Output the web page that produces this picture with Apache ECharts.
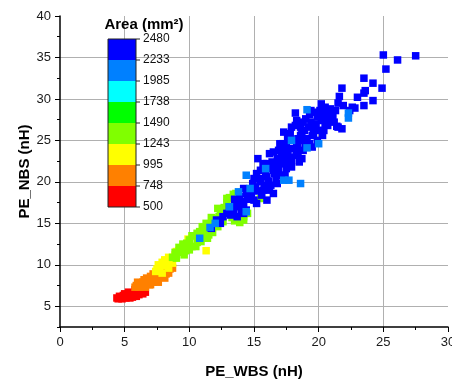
<!DOCTYPE html>
<html><head><meta charset="utf-8">
<script src="https://cdn.jsdelivr.net/npm/echarts@6/dist/echarts.min.js"></script>
<style>html,body{margin:0;padding:0;background:#fff}#c{width:452px;height:381px}</style>
</head><body><div id="c"></div>
<script>
// Axis tick values
const xTicks = [0, 5, 10, 15, 20, 25, 30];
const yTicks = [5, 10, 15, 20, 25, 30, 35, 40];
// Colour legend (Area, mm²) boundaries top -> bottom and piece colours
const legendTicks = [2480, 2233, 1985, 1738, 1490, 1243, 995, 748, 500];
const legendColors = ['#0000ff', '#0080ff', '#00ffff', '#00ff00', '#80ff00', '#ffff00', '#ff8000', '#ff0000'];

// Points: [PE_WBS (nH), PE_NBS (nH), Area (mm²)]
const ptsRed = [
  [4.4,6.0,600],[4.5,5.9,610],[4.6,6.2,600],[4.7,6.0,620],[4.8,5.9,630],[4.9,6.3,640],[5.0,6.1,620],
  [5.0,6.5,650],[5.1,6.0,650],[5.2,6.4,660],[5.3,6.7,670],[5.4,6.0,640],[5.4,6.5,670],[5.6,6.1,680],
  [5.6,6.3,660],[5.7,6.6,690],[5.8,7.0,700],[5.9,6.2,690],[5.9,6.8,700],[6.0,6.6,710],[6.1,6.4,700],
  [6.1,7.1,720],[6.2,6.9,720],[6.4,6.5,730],[6.4,6.9,740],[6.5,7.2,740],[6.6,6.7,735]
];
const ptsOrange = [
  [5.8,7.3,760],[5.9,7.5,780],[6.0,7.9,790],[6.1,7.3,790],[6.3,7.6,800],[6.4,7.9,820],[6.5,8.2,830],
  [6.6,7.3,810],[6.6,7.7,830],[6.7,8.4,850],[6.8,8.1,850],[6.9,7.6,840],[7.0,8.6,870],[7.0,7.6,850],
  [7.1,8.3,870],[7.2,7.9,860],[7.2,8.9,880],[7.4,8.6,890],[7.4,8.0,880],[7.6,8.3,900],[7.6,7.9,890],
  [7.7,8.9,910],[7.9,8.6,920],[8.0,9.3,940],[8.1,8.4,930],[8.2,8.9,950],[8.3,9.8,960],[8.4,9.0,960],
  [8.5,9.5,980],[8.7,9.6,985]
];
const ptsYellow = [
  [7.4,9.2,1010],[7.5,9.5,1020],[7.7,9.6,1030],[7.9,9.0,1020],[7.9,10.3,1060],[8.0,9.9,1060],
  [7.6,10.0,1050],[8.1,10.6,1080],[8.2,10.3,1080],[8.4,9.6,1070],[8.4,10.9,1100],[8.6,10.7,1110],
  [8.7,10.2,1100],[8.9,11.2,1140],[9.0,11.6,1150],[9.2,11.7,1170],[9.6,12.0,1190],[9.9,13.1,1220],
  [11.3,11.7,1150]
];
const ptsLime = [
  [8.7,10.9,1260],[8.9,11.5,1270],[9.0,10.8,1260],[9.3,11.5,1280],[9.2,12.1,1290],[9.5,12.5,1300],
  [9.6,11.2,1280],[9.7,11.7,1300],[9.8,12.6,1310],[10.0,13.0,1320],[10.0,11.8,1300],[10.2,12.2,1310],
  [10.2,13.5,1330],[10.4,13.5,1340],[10.5,12.2,1320],[10.6,12.7,1330],[10.6,13.8,1340],[10.8,14.0,1350],
  [10.9,12.8,1330],[11.0,14.6,1360],[11.1,13.5,1350],[11.2,14.4,1370],[11.3,15.0,1370],[11.4,13.2,1360],
  [11.5,13.6,1360],[11.6,14.9,1380],[11.7,15.7,1390],[11.8,13.9,1370],[11.9,15.1,1390],[12.0,15.6,1400],
  [12.2,14.6,1390],[12.2,16.8,1410],[12.3,15.8,1400],[12.4,16.3,1410],[12.6,15.2,1400],[12.6,16.4,1410],
  [12.7,16.9,1420],[12.9,17.5,1430],[12.9,18.0,1440],[13.1,18.1,1440],[13.4,18.5,1450],[13.6,18.6,1450],
  [13.3,15.7,1420],[13.5,15.3,1420],[13.9,15.1,1430],[14.0,15.6,1430],[14.2,15.4,1440],[14.2,15.8,1450],
  [14.5,16.2,1450],[15.5,18.0,1460]
];
const ptsBlue = [
  [11.7,14.4,2400],[12.1,15.4,2400],[12.4,15.0,2400],[12.6,15.8,2400],[12.9,16.2,2400],[13.1,17.0,2400],
  [13.2,16.0,2400],[13.3,16.9,2400],[13.4,16.4,2400],[13.6,17.0,2400],[13.7,15.8,2400],[13.7,17.4,2400],
  [13.5,17.9,2400],[13.9,18.2,2400],[14.0,16.6,2400],[14.1,17.6,2400],[14.2,16.2,2400],[14.2,17.4,2400],
  [14.2,19.2,2400],[14.4,18.6,2400],[14.4,16.6,2400],[14.5,17.9,2400],[14.7,18.2,2400],[14.8,18.6,2400],
  [14.9,19.8,2400],[15.0,17.8,2400],[15.0,20.4,2400],[15.1,19.4,2400],[15.2,21.0,2400],[15.2,17.4,2400],
  [15.3,18.9,2400],[15.4,20.4,2400],[15.5,20.0,2400],[15.5,21.4,2400],[15.6,18.4,2400],[15.7,19.0,2400],
  [15.7,22.2,2400],[15.3,22.8,2400],[15.8,19.6,2400],[15.9,20.8,2400],[16.0,17.8,2400],[16.0,20.6,2400],
  [16.0,22.2,2400],[16.1,20.1,2400],[16.2,19.0,2400],[16.2,23.4,2400],[16.2,21.6,2400],[16.3,19.6,2400],
  [16.4,22.4,2400],[16.5,21.4,2400],[16.5,22.0,2400],[16.5,18.6,2400],[16.5,23.6,2400],[16.6,21.0,2400],
  [16.7,20.4,2400],[16.8,19.8,2400],[16.8,21.8,2400],[16.8,22.8,2400],[16.9,21.4,2400],[16.9,23.8,2400],
  [17.0,22.2,2400],[17.0,24.6,2400],[17.0,20.8,2400],[17.1,23.4,2400],[17.2,23.0,2400],[17.2,24.6,2400],
  [17.3,23.8,2400],[17.3,26.0,2400],[17.4,22.2,2400],[17.4,20.8,2400],[17.5,22.6,2400],[17.5,24.6,2400],
  [17.5,21.6,2400],[17.6,23.2,2400],[17.6,25.2,2400],[17.7,24.0,2400],[17.8,25.8,2400],[17.8,23.0,2400],
  [17.9,21.8,2400],[17.9,22.6,2400],[17.9,26.6,2400],[18.0,24.0,2400],[18.1,25.0,2400],[18.2,26.8,2400],
  [18.2,28.3,2400],[18.3,23.4,2400],[18.3,24.2,2400],[18.3,27.4,2400],[18.4,25.2,2400],[18.4,24.6,2400],
  [18.4,23.2,2400],[18.5,22.4,2400],[18.6,25.6,2400],[18.6,26.6,2400],[18.7,26.0,2400],[18.7,22.8,2400],
  [18.8,27.2,2400],[18.8,23.8,2400],[18.8,25.0,2400],[18.9,26.2,2400],[19.0,24.4,2400],[19.0,27.6,2400],
  [19.1,25.2,2400],[19.2,26.6,2400],[19.3,24.6,2400],[19.3,28.1,2400],[19.4,27.2,2400],[19.4,28.6,2400],
  [19.5,25.6,2400],[19.5,24.2,2400],[19.6,26.8,2400],[19.6,25.8,2400],[19.7,26.4,2400],[19.7,28.4,2400],
  [19.8,27.0,2400],[19.9,27.9,2400],[19.9,25.0,2400],[20.0,26.2,2400],[20.1,28.6,2400],[20.2,27.4,2400],
  [20.2,29.4,2400],[20.3,25.6,2400],[20.3,27.8,2400],[20.4,26.2,2400],[20.5,27.0,2400],[20.5,29.0,2400],
  [20.6,28.2,2400],[20.7,26.8,2400],[20.8,27.6,2400],[20.9,28.8,2400],[21.0,27.6,2400],[21.1,28.0,2400],
  [21.2,27.2,2400],[21.3,28.6,2400],[21.4,26.7,2400],[21.5,29.5,2400],[21.5,26.6,2400],[21.6,30.3,2400],
  [21.8,26.4,2400],[21.8,31.3,2400],[21.9,29.2,2400],[22.4,28.6,2400],[22.6,29.0,2400],[22.8,28.9,2400],
  [23.0,30.2,2400],[23.5,29.2,2400],[23.5,30.7,2400],[23.6,31.0,2400],[23.5,32.5,2400],[24.2,29.8,2400],
  [24.2,31.9,2400],[24.9,31.3,2400],[25.0,35.3,2400],[25.2,33.6,2400],[26.1,34.7,2400],[27.5,35.2,2400]
];
const ptsSky = [
  [10.8,13.2,2150],[11.6,14.5,2150],[12.0,15.0,2150],[13.1,17.0,2150],[13.8,18.8,2150],[14.4,20.8,2150],
  [14.4,16.4,2150],[14.7,19.2,2150],[15.9,21.6,2150],[17.3,20.2,2150],[17.7,20.2,2150],[18.6,19.8,2150],
  [17.9,25.0,2150],[19.1,24.1,2150],[20.0,24.6,2150],[19.1,28.7,2150],[22.3,28.3,2150],[22.3,27.7,2150]
];

const FONT = '"Liberation Sans", Arial, sans-serif';
const LEG = { x: 108, y: 39, w: 28, h: 21 };

const chart = echarts.init(document.getElementById('c'), null, { renderer: 'canvas' });
const allPts = [].concat(ptsRed, ptsOrange, ptsYellow, ptsLime, ptsBlue, ptsSky);

// pieces ascending (low -> high)
const pieces = [];
for (let i = legendColors.length - 1; i >= 0; i--) {
  pieces.push({ min: legendTicks[i + 1], max: legendTicks[i], color: legendColors[i] });
}

const graphics = [
  { type: 'text', x: 144, y: 25, z: 100,
    style: { text: 'Area (mm²)', font: 'bold 15px ' + FONT, fill: '#000', align: 'center', verticalAlign: 'middle' } },
  { type: 'rect', z: 100, shape: { x: LEG.x, y: LEG.y, width: LEG.w, height: LEG.h * legendColors.length },
    style: { fill: 'none', stroke: '#222', lineWidth: 1 } }
];
legendTicks.forEach(function (t, i) {
  const yy = LEG.y + i * LEG.h;
  graphics.push({ type: 'line', z: 100, shape: { x1: LEG.x + LEG.w, y1: yy, x2: LEG.x + LEG.w + 4, y2: yy },
    style: { stroke: '#222', lineWidth: 1 } });
  graphics.push({ type: 'text', z: 100, x: LEG.x + LEG.w + 7, y: yy,
    style: { text: String(t), font: '12px ' + FONT, fill: '#111', align: 'left', verticalAlign: 'middle' } });
});

const option = {
  animation: false,
  backgroundColor: '#fff',
  textStyle: { fontFamily: FONT },
  grid: { left: 60, top: 16, right: 4, bottom: 54, containLabel: false, outerBoundsMode: 'none' },
  xAxis: {
    type: 'value', min: 0, max: 30, interval: 5,
    name: 'PE_WBS (nH)', nameLocation: 'middle', nameGap: 37, nameMoveOverlap: false,
    nameTextStyle: { fontFamily: FONT, fontSize: 15, fontWeight: 'bold', color: '#000' },
    axisLine: { show: true, onZero: false, lineStyle: { color: '#000', width: 1.5 } },
    axisTick: { show: true, length: 5, lineStyle: { color: '#000', width: 1 } },
    minorTick: { show: true, splitNumber: 2, length: 3, lineStyle: { color: '#000', width: 1 } },
    axisLabel: { fontFamily: FONT, fontSize: 13, color: '#1a1a1a', margin: 9, customValues: xTicks },
    splitLine: { show: true, showMinLine: false, showMaxLine: false, lineStyle: { color: '#b0b0b0', width: 1 } },
    minorSplitLine: { show: false }
  },
  yAxis: [
    {
      type: 'value', min: 2.5, max: 40, interval: 2.5, position: 'left',
      name: 'PE_NBS (nH)', nameLocation: 'middle', nameGap: 28, nameMoveOverlap: false,
      nameTextStyle: { fontFamily: FONT, fontSize: 15, fontWeight: 'bold', color: '#000' },
      axisLine: { show: true, onZero: false, lineStyle: { color: '#000', width: 1.5 } },
      axisTick: { show: true, length: 5, customValues: yTicks, lineStyle: { color: '#000', width: 1 } },
      axisLabel: { fontFamily: FONT, fontSize: 13, color: '#1a1a1a', margin: 9, customValues: yTicks },
      splitLine: { show: true, showMinLine: true, showMaxLine: false, lineStyle: { color: '#b0b0b0', width: 1 } }
    },
    {
      type: 'value', min: 2.5, max: 40, interval: 2.5, position: 'left', offset: 0,
      axisLine: { show: false, onZero: false },
      axisTick: { show: true, length: 3, lineStyle: { color: '#000', width: 1 } },
      axisLabel: { show: false },
      splitLine: { show: false }
    }
  ],
  visualMap: {
    type: 'piecewise', dimension: 2, seriesIndex: 0,
    pieces: pieces, orient: 'vertical',
    left: LEG.x, top: LEG.y, itemWidth: LEG.w, itemHeight: LEG.h, itemGap: 0, padding: 0,
    itemSymbol: 'rect', showLabel: false, selectedMode: false, hoverLink: false,
    textStyle: { fontSize: 0 }
  },
  graphic: graphics,
  series: [{
    type: 'scatter', xAxisIndex: 0, yAxisIndex: 0,
    symbol: 'rect', symbolSize: 7.5,
    data: allPts,
    encode: { x: 0, y: 1 },
    itemStyle: { opacity: 1 },
    emphasis: { disabled: true },
    silent: true
  }]
};
chart.setOption(option);
</script>
</body></html>
